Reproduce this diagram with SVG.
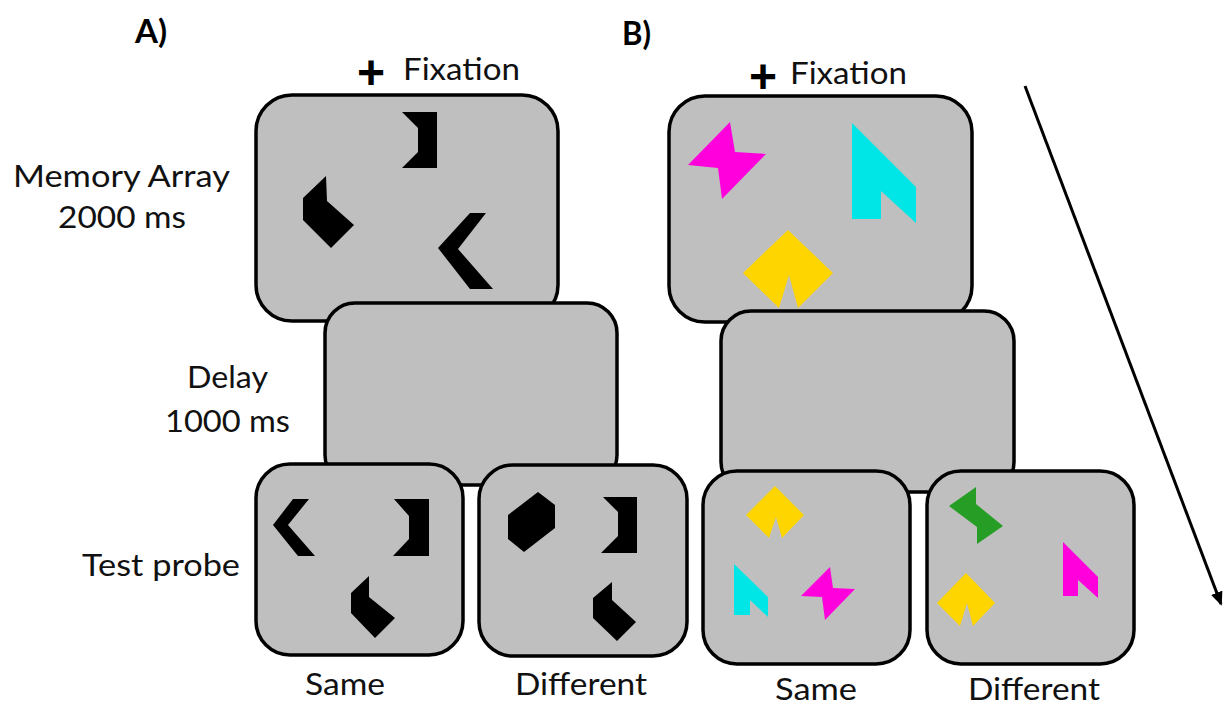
<svg xmlns="http://www.w3.org/2000/svg" width="1227" height="707" viewBox="0 0 1227 707">
<style>
.box{fill:#bfbfbf;stroke:#000;stroke-width:3.5}
.t{font-family:Lato,"Open Sans","Liberation Sans",sans-serif;font-size:31px;fill:#111}
.h{font-family:Lato,"Liberation Sans",sans-serif;font-size:33px;font-weight:bold;fill:#000}
.p{font-family:"Liberation Sans",sans-serif;font-weight:bold;font-size:48px;fill:#000}
.k{fill:#000}
.m{fill:#ff00dc}
.c{fill:#00e6e6}
.y{fill:#ffd500}
.g{fill:#269e26}
</style>
<defs>
<marker id="ah" markerWidth="14" markerHeight="12" refX="12" refY="6" orient="auto" markerUnits="userSpaceOnUse" viewBox="0 0 14 12">
<path d="M0,0 L14,6 L0,12 z" fill="#000"/>
</marker>
</defs>
<rect width="1227" height="707" fill="#fff"/>

<g id="labels">
<text class="h" x="135" y="43" textLength="32" lengthAdjust="spacingAndGlyphs">A)</text>
<text class="h" x="622" y="45" textLength="29" lengthAdjust="spacingAndGlyphs">B)</text>
<text class="p" x="357" y="89">+</text>
<text class="t" x="403" y="80" textLength="117" lengthAdjust="spacingAndGlyphs">Fixation</text>
<text class="p" x="749" y="93">+</text>
<text class="t" x="790" y="84" textLength="117" lengthAdjust="spacingAndGlyphs">Fixation</text>
<text class="t" x="13" y="187" textLength="217" lengthAdjust="spacingAndGlyphs">Memory Array</text>
<text class="t" x="58" y="228" textLength="128" lengthAdjust="spacingAndGlyphs">2000 ms</text>
<text class="t" x="187" y="388" textLength="81" lengthAdjust="spacingAndGlyphs">Delay</text>
<text class="t" x="165" y="432" textLength="125" lengthAdjust="spacingAndGlyphs">1000 ms</text>
<text class="t" x="82" y="576" textLength="158" lengthAdjust="spacingAndGlyphs">Test probe</text>
<text class="t" x="305" y="695" textLength="80" lengthAdjust="spacingAndGlyphs">Same</text>
<text class="t" x="515" y="695" textLength="132" lengthAdjust="spacingAndGlyphs">Different</text>
<text class="t" x="775" y="700" textLength="82" lengthAdjust="spacingAndGlyphs">Same</text>
<text class="t" x="968" y="700" textLength="132" lengthAdjust="spacingAndGlyphs">Different</text>
</g>

<g id="A-memory">
<rect class="box" x="256" y="95" width="302" height="226" rx="36"/>
<polygon class="k" points="402,112 437,112 437,168 402,168 418,152 418,128"/>
<polygon class="k" points="326,176 327,201 354,225 331,248 303,220 303,198"/>
<polygon class="k" points="470,213 438,248 470,289 493,289 458,249 486,213"/>
</g>
<g id="A-delay">
<rect class="box" x="325" y="303" width="292" height="182" rx="30"/>
</g>
<g id="A-same">
<rect class="box" x="256" y="464" width="207" height="191" rx="34"/>
<polygon class="k" points="293,499 273,525 298,556 315,556 288,525 309,499"/>
<polygon class="k" points="394,499 429,499 429,556 393,556 409,539 409,516"/>
<polygon class="k" points="369,576 369,597 395,618 375,638 351,613 351,593"/>
</g>
<g id="A-different">
<rect class="box" x="479" y="465" width="208" height="191" rx="34"/>
<polygon class="k" points="538,492 555,505 555,528 524,552 508,539 508,515"/>
<polygon class="k" points="603,497 637,497 637,553 601,553 618,536 618,512"/>
<polygon class="k" points="612,582 612,600 636,622 617,641 593,618 593,598"/>
</g>

<g id="B-memory">
<rect class="box" x="669" y="96" width="303" height="226" rx="36"/>
<polygon class="m" points="730,122 735,152 766,154 722,199 718,168 688,165"/>
<polygon class="c" points="852,123 916,187 916,223 881,191 881,219 852,219"/>
<polygon class="y" points="788,230 833,273 798,308 789,275 779,308 743,273"/>
</g>
<g id="B-delay">
<rect class="box" x="721" y="311" width="293" height="181" rx="30"/>
</g>
<g id="B-same">
<rect class="box" x="703" y="471" width="207" height="193" rx="34"/>
<polygon class="y" points="775,486 804,515 782,538 776,517 769,538 746,515"/>
<polygon class="c" points="734,564 768,597 768,617 750,600 750,615 734,615"/>
<polygon class="m" points="830,567 833,588 855,589 825,620 822,597 801,596"/>
</g>
<g id="B-different">
<rect class="box" x="927" y="471" width="207" height="193" rx="34"/>
<polygon class="g" points="976,487 976,504 1003,526 977,544 977,527 949,506"/>
<polygon class="m" points="1063,542 1098,577 1098,598 1078,580 1078,596 1063,596"/>
<polygon class="y" points="966,573 995,603 973,626 967,603 960,626 937,603"/>
</g>

<g id="connectors">
<line x1="1025" y1="86" x2="1221" y2="604" stroke="#000" stroke-width="3" marker-end="url(#ah)"/>
</g>
</svg>
